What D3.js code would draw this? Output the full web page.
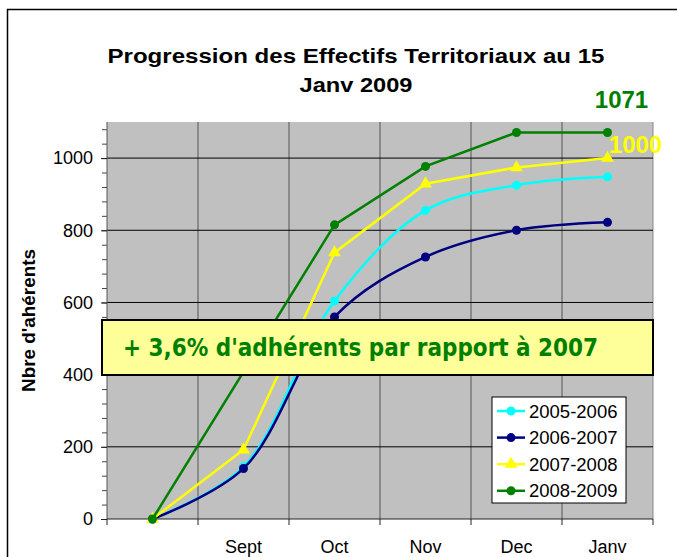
<!DOCTYPE html>
<html>
<head>
<meta charset="utf-8">
<script src="https://cdn.jsdelivr.net/npm/d3@7"></script>
<style>
  body { margin: 0; background: #fff; }
</style>
</head>
<body>
<div id="chart"></div>
<script>
// Months (first slot has no label)
const months = ["", "Sept", "Oct", "Nov", "Dec", "Janv"];

// Series values (null = no value)
const v0506 = [0, 145, 604, 855, 925, 948];
const v0607 = [0, 140, 560, 726, 800, 822];
const v0708 = [0, 192, 738, 929, 974, 1000];
const v0809 = [0, null, 815, 977, 1071, 1071];

const seriesNames = ["2005-2006", "2006-2007", "2007-2008", "2008-2009"];
const seriesColors = ["#00FFFF", "#000080", "#FFFF00", "#008000"];
const yTicks = [0, 200, 400, 600, 800, 1000];

const width = 677, height = 557;
const margin = { top: 122, right: 24, bottom: 38, left: 107 };
const font = "Arial, 'Liberation Sans', sans-serif";

const svg = d3.select("#chart").append("svg")
    .attr("width", width)
    .attr("height", height)
    .style("font-family", font);

// outer chart frame
svg.append("rect")
    .attr("x", 7.5).attr("y", 9.5)
    .attr("width", 700).attr("height", 600)
    .attr("fill", "white").attr("stroke", "black").attr("stroke-width", 1.5);

const xScale = d3.scaleBand()
    .domain(months)
    .range([margin.left, width - margin.right]);

const yScale = d3.scaleLinear()
    .domain([0, 1100])
    .range([height - margin.bottom, margin.top]);

const x = i => xScale(months[i]) + xScale.bandwidth() / 2;

// plot area
svg.append("rect")
    .attr("x", margin.left)
    .attr("y", yScale(1100))
    .attr("width", width - margin.right - margin.left)
    .attr("height", yScale(0) - yScale(1100))
    .attr("fill", "#C0C0C0");

// vertical gridlines at category boundaries
months.slice(1).forEach(m => {
    svg.append("line")
        .attr("x1", xScale(m)).attr("x2", xScale(m))
        .attr("y1", yScale(1100)).attr("y2", yScale(0))
        .attr("stroke", "#555").attr("stroke-width", 1);
});
svg.append("line")
    .attr("x1", width - margin.right).attr("x2", width - margin.right)
    .attr("y1", yScale(1100)).attr("y2", yScale(0))
    .attr("stroke", "#888").attr("stroke-width", 1);

// horizontal gridlines
yTicks.slice(1).forEach(t => {
    svg.append("line")
        .attr("x1", margin.left).attr("x2", width - margin.right)
        .attr("y1", yScale(t)).attr("y2", yScale(t))
        .attr("stroke", "black").attr("stroke-width", 1);
});

// y axis: minor ticks every 40, labelled every 200
const yAxisMinor = d3.axisLeft(yScale)
    .tickValues(d3.range(0, 1101, 40))
    .tickSize(5).tickFormat("");
svg.append("g")
    .attr("transform", `translate(${margin.left},0)`)
    .call(yAxisMinor)
    .call(g => g.select(".domain").remove())
    .selectAll("line").attr("stroke", "#444");

const yAxis = d3.axisLeft(yScale)
    .tickValues(yTicks)
    .tickFormat(d3.format("d"))
    .tickSize(6).tickPadding(8);
svg.append("g")
    .attr("transform", `translate(${margin.left},0)`)
    .call(yAxis)
    .call(g => g.select(".domain").attr("stroke", "#555").attr("d", `M0,${yScale(1100)}V${yScale(0)}`))
    .call(g => g.selectAll("line").attr("stroke", "#222"))
    .call(g => g.selectAll("text")
        .attr("font-size", "18px")
        .attr("fill", "black")
        .style("font-family", font));

// x axis: ticks at band boundaries, labels centred in bands
const xAxisG = svg.append("g")
    .attr("transform", `translate(0,${yScale(0)})`);
xAxisG.append("line")
    .attr("x1", margin.left).attr("x2", width - margin.right)
    .attr("stroke", "#222");
months.concat(["end"]).forEach((m, i) => {
    const xx = i < months.length ? xScale(m) : width - margin.right;
    xAxisG.append("line")
        .attr("x1", xx).attr("x2", xx)
        .attr("y1", 0).attr("y2", 6)
        .attr("stroke", "#222");
});
months.forEach((m, i) => {
    xAxisG.append("text")
        .attr("x", x(i))
        .attr("y", 34)
        .attr("text-anchor", "middle")
        .attr("font-size", "18px")
        .text(m);
});

// y axis title
svg.append("text")
    .attr("transform", `translate(35,${(yScale(0) + yScale(1100)) / 2}) rotate(-90)`)
    .attr("text-anchor", "middle")
    .attr("font-size", "18px")
    .attr("font-weight", "bold")
    .attr("textLength", 143)
    .attr("lengthAdjust", "spacingAndGlyphs")
    .text("Nbre d'ahérents");

// chart title
svg.append("text")
    .attr("x", 356).attr("y", 63)
    .attr("text-anchor", "middle")
    .attr("font-size", "21px")
    .attr("font-weight", "bold")
    .attr("textLength", 497)
    .attr("lengthAdjust", "spacingAndGlyphs")
    .text("Progression des Effectifs Territoriaux au 15");
svg.append("text")
    .attr("x", 356).attr("y", 92)
    .attr("text-anchor", "middle")
    .attr("font-size", "21px")
    .attr("font-weight", "bold")
    .attr("textLength", 113)
    .attr("lengthAdjust", "spacingAndGlyphs")
    .text("Janv 2009");

// series
const allSeries = [v0506, v0607, v0708, v0809];
const smooth = [true, true, false, false];
const markers = ["circle", "circle", "triangle", "circle"];

allSeries.forEach((vals, s) => {
    const pts = vals.map((v, i) => ({ i, v })).filter(d => d.v !== null);
    const line = d3.line()
        .x(d => x(d.i))
        .y(d => yScale(d.v))
        .curve(smooth[s] ? d3.curveCatmullRom.alpha(0.5) : d3.curveLinear);
    svg.append("path")
        .datum(pts)
        .attr("d", line)
        .attr("fill", "none")
        .attr("stroke", seriesColors[s])
        .attr("stroke-width", 2.5);

    pts.forEach(d => {
        if (markers[s] === "triangle") {
            svg.append("path")
                .attr("d", d3.symbol(d3.symbolTriangle, 70)())
                .attr("transform", `translate(${x(d.i)},${yScale(d.v)})`)
                .attr("fill", seriesColors[s]);
        } else {
            svg.append("circle")
                .attr("cx", x(d.i)).attr("cy", yScale(d.v))
                .attr("r", 4.5)
                .attr("fill", seriesColors[s]);
        }
    });
});

// data labels at the last point
svg.append("text")
    .attr("x", x(5) + 14)
    .attr("y", yScale(v0809[5]) - 24)
    .attr("text-anchor", "middle")
    .attr("font-size", "24px")
    .attr("font-weight", "bold")
    .attr("fill", "#008000")
    .text(v0809[5]);
svg.append("text")
    .attr("x", x(5) + 28)
    .attr("y", yScale(v0708[5]) - 5)
    .attr("text-anchor", "middle")
    .attr("font-size", "24px")
    .attr("font-weight", "bold")
    .attr("fill", "#FFFF00")
    .text(v0708[5]);

// annotation box
svg.append("rect")
    .attr("x", 102).attr("y", 320)
    .attr("width", 551).attr("height", 55)
    .attr("fill", "#FFFF99")
    .attr("stroke", "black").attr("stroke-width", 2);
svg.append("text")
    .attr("x", 123).attr("y", 356)
    .style("font-family", "'DejaVu Sans', sans-serif")
    .style("font-weight", "bold")
    .attr("font-size", "25px")
    .attr("fill", "#008000")
    .attr("textLength", 475)
    .attr("lengthAdjust", "spacingAndGlyphs")
    .text("+ 3,6% d'adhérents par rapport à 2007");

// legend
const legend = svg.append("g").attr("transform", "translate(492,397)");
legend.append("rect")
    .attr("width", 134).attr("height", 106)
    .attr("fill", "white").attr("stroke", "black").attr("stroke-width", 1);
seriesNames.forEach((name, s) => {
    const ly = 14 + s * 26.6;
    legend.append("line")
        .attr("x1", 5).attr("x2", 33)
        .attr("y1", ly).attr("y2", ly)
        .attr("stroke", seriesColors[s]).attr("stroke-width", 2.5);
    if (markers[s] === "triangle") {
        legend.append("path")
            .attr("d", d3.symbol(d3.symbolTriangle, 70)())
            .attr("transform", `translate(19,${ly})`)
            .attr("fill", seriesColors[s]);
    } else {
        legend.append("circle")
            .attr("cx", 19).attr("cy", ly).attr("r", 4.5)
            .attr("fill", seriesColors[s]);
    }
    legend.append("text")
        .attr("x", 37).attr("y", ly + 6.5)
        .attr("font-size", "18.5px")
        .text(name);
});
</script>
</body>
</html>
